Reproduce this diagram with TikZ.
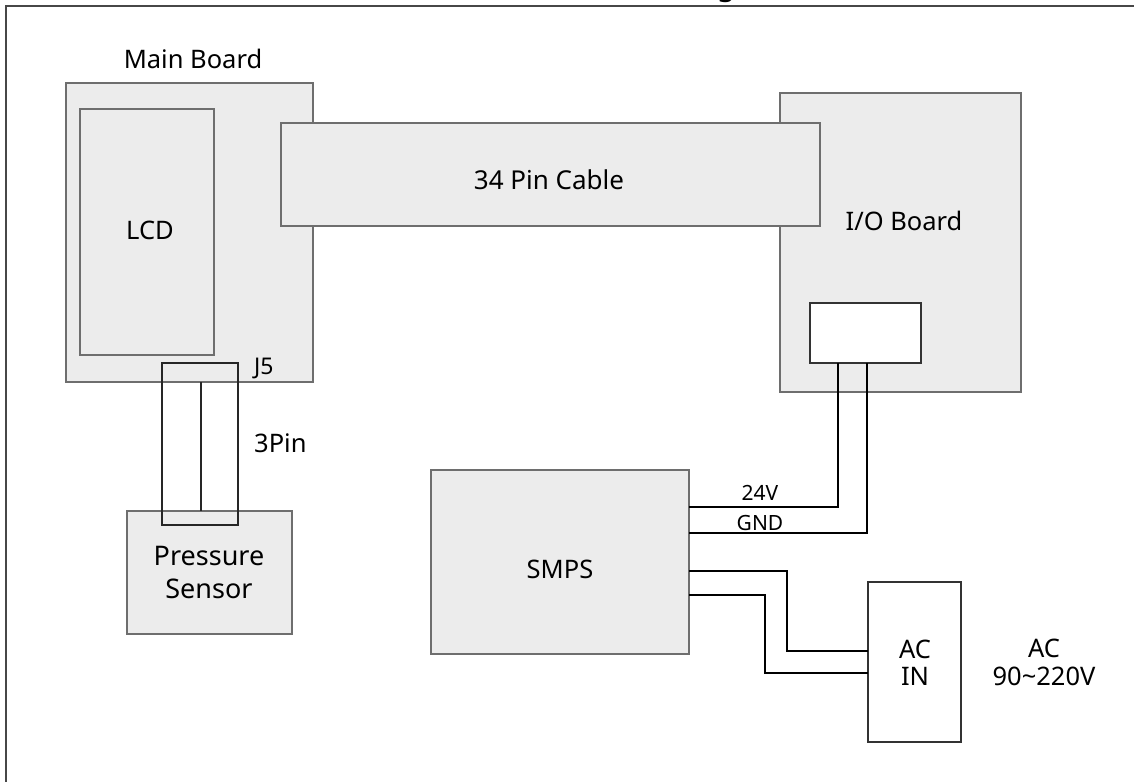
\documentclass[tikz,border=0pt]{standalone}
\usepackage{fontspec}
\setmainfont{Noto Sans}
\definecolor{boxfill}{HTML}{ECECEC}
\definecolor{boxline}{HTML}{6E6E6E}
\definecolor{framecol}{HTML}{474747}
\begin{document}
\begin{tikzpicture}[x=1pt,y=-1pt,
  board/.style={draw=boxline, fill=boxfill, line width=1.1pt, inner sep=0pt, outer sep=0pt, anchor=north west},
  plainbox/.style={draw=black!80, fill=white, line width=1.3pt, inner sep=0pt, outer sep=0pt, anchor=north west},
  wire/.style={draw=black, line width=2pt},
  lbl/.style={inner sep=0pt, font=\fontsize{25.5}{28}\selectfont},
  smalllbl/.style={inner sep=0pt, font=\fontsize{21}{24}\selectfont}]
\useasboundingbox (0,0) rectangle (1134,781);
\clip (0,0) rectangle (1134,781);
% frame
\draw[framecol, line width=2.4pt] (6,790) -- (6,6) -- (1140,6);
\node[anchor=south, inner sep=0pt, font=\fontsize{30}{30}\selectfont\bfseries] (title) at (726,2.5) {g};
% Main board
\node[board, minimum width=247pt, minimum height=299pt] (main) at (66,83) {};
\node[lbl, anchor=base] (mainlbl) at (193,69) {Main Board};
\node[board, minimum width=134pt, minimum height=246pt] (lcd) at (80,109) {};
\node[lbl, anchor=base] (lcdlbl) at (150,239) {LCD};
% IO board
\node[board, minimum width=241pt, minimum height=299pt] (io) at (780,93) {};
\node[lbl, anchor=base] (iolbl) at (904,230) {I/O Board};
\node[plainbox, minimum width=111pt, minimum height=60pt] (conn) at (810,303) {};
% cable (drawn over both boards)
\node[board, minimum width=539pt, minimum height=103pt] (cable) at (281,123) {};
\node[lbl, anchor=base, font=\fontsize{26}{28}\selectfont] (cablelbl) at (549,189) {34 Pin Cable};
% Pressure sensor
\node[board, minimum width=165pt, minimum height=123pt] (ps) at (127,511) {};
\node[inner sep=0pt, align=center, font=\fontsize{27}{33}\selectfont] (pslbl) at (209,572) {Pressure\\Sensor};
% J5 connector
\node[draw=black!85, line width=1.4pt, inner sep=0pt, outer sep=0pt, anchor=north west, minimum width=76pt, minimum height=162pt] (j5) at (162,363) {};
\coordinate (j5mid) at (201,0);
\draw[black!85, line width=1.4pt] (main.south -| j5mid) -- (ps.north -| j5mid);
\node[inner sep=0pt, anchor=base west, font=\fontsize{23}{26}\selectfont] (j5lbl) at (254,374) {J5};
\node[lbl, anchor=base west] (pinlbl) at (254,452) {3Pin};
% SMPS
\node[board, minimum width=258pt, minimum height=184pt] (smps) at (431,470) {};
\node[lbl, anchor=base] (smpslbl) at (560,578) {SMPS};
% AC IN
\node[plainbox, minimum width=93pt, minimum height=160pt] (ac) at (868,582) {};
\node[lbl, anchor=base] (aclbl1) at (915,658) {AC};
\node[lbl, anchor=base] (aclbl2) at (915,685) {IN};
\node[lbl, anchor=base] (vlbl1) at (1044,657) {AC};
\node[lbl, anchor=base] (vlbl2) at (1044,685) {90\textasciitilde220V};
% wires to IO
\coordinate (b24) at (838,507);
\coordinate (bgnd) at (867,533);
\draw[wire] (conn.south -| b24) -- (b24) -- (smps.east |- b24);
\draw[wire] (conn.south -| bgnd) -- (bgnd) -- (smps.east |- bgnd);
\node[smalllbl, anchor=base] (l24) at (760,500) {24V};
\node[smalllbl, anchor=base] (lgnd) at (760,530) {GND};
% wires to AC
\coordinate (a1) at (787,571);
\coordinate (a1b) at (787,651);
\coordinate (a2) at (765,595);
\coordinate (a2b) at (765,673);
\draw[wire] (smps.east |- a1) -- (a1) -- (a1b) -- (ac.west |- a1b);
\draw[wire] (smps.east |- a2) -- (a2) -- (a2b) -- (ac.west |- a2b);
\end{tikzpicture}
\end{document}
